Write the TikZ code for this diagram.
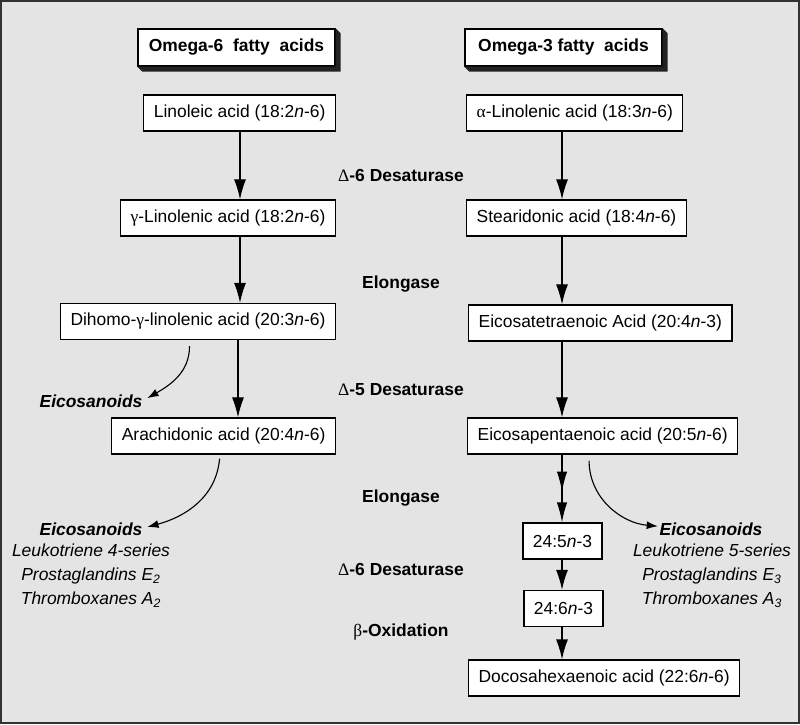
\documentclass[tikz,border=0pt]{standalone}
\usepackage{fontspec}
\setmainfont{Liberation Sans}
\newfontfamily\grk{Liberation Serif}
\usetikzlibrary{arrows.meta}

\definecolor{bggray}{RGB}{228,228,228}
\definecolor{shadowgray}{RGB}{34,34,34}

\tikzset{
  acidbox/.style={draw, fill=white, line width=0.9pt, minimum height=0.9cm, inner xsep=0.25cm},
  titlebox/.style={draw, fill=white, line width=0.9pt, minimum width=4.925cm, minimum height=0.925cm, font=\bfseries\fontsize{12.4pt}{15pt}\selectfont},
  enzyme/.style={font=\bfseries\fontsize{12.4pt}{15pt}\selectfont},
  eicohead/.style={font=\bfseries\itshape\fontsize{12.4pt}{15pt}\selectfont},
  eicolist/.style={align=center, font=\itshape\fontsize{12.4pt}{17.07pt}\selectfont},
  arr/.style={-{Latex[length=0.5cm,width=0.3cm]}, line width=0.9pt},
  dblarr/.style={-{Latex[length=0.5cm,width=0.26cm,sep=0.27cm]Latex[length=0.5cm,width=0.26cm]}, line width=0.9pt},
  curvearr/.style={-{Latex[length=0.28cm,width=0.2cm]}, line width=0.8pt},
}

\begin{document}
\begin{tikzpicture}[x=0.025cm, y=-0.025cm, font=\fontsize{12.4pt}{15pt}\selectfont]
    \useasboundingbox (0,0) rectangle (800,724);
    \fill[bggray] (0,0) rectangle (800,724);
    \draw[line width=1.2pt, black!80] (1,1) rectangle (799,723);

    % column headings
    \node[titlebox] (t6) at (236.5,47.5) {Omega-6\ \ fatty\ \ acids};
    \node[titlebox] (t3) at (563.5,47.5) {Omega-3 fatty\ \ acids};
    \fill[shadowgray] (t6.north east) -- ++(5,5) -- ([shift={(5,5)}]t6.south east) -- ([shift={(5,5)}]t6.south west) -- (t6.south west) -- (t6.south east) -- cycle;
    \fill[shadowgray] (t3.north east) -- ++(5,5) -- ([shift={(5,5)}]t3.south east) -- ([shift={(5,5)}]t3.south west) -- (t3.south west) -- (t3.south east) -- cycle;

    \coordinate (colL) at (240,0);
    \coordinate (colR) at (562,0);

    % omega-6 side
    \node[acidbox, anchor=east] (lin) at (336,113) {Linoleic acid (18:2\textit{n}-6)};
    \node[acidbox, anchor=east] (glin) at (336,218) {{\grk γ}-Linolenic acid (18:2\textit{n}-6)};
    \node[acidbox, anchor=east] (dih) at (336,321.5) {Dihomo-{\grk γ}-linolenic acid (20:3\textit{n}-6)};
    \node[acidbox, anchor=east] (ara) at (336,436) {Arachidonic acid (20:4\textit{n}-6)};

    % omega-3 side
    \node[acidbox, anchor=west] (alin) at (466,113) {{\grk α}-Linolenic acid (18:3\textit{n}-6)};
    \node[acidbox, anchor=west] (ster) at (466,218) {Stearidonic acid (18:4\textit{n}-6)};
    \node[acidbox, anchor=west] (eta) at (468,323) {Eicosatetraenoic Acid (20:4\textit{n}-3)};
    \node[acidbox, anchor=west] (epa) at (467,436) {Eicosapentaenoic acid (20:5\textit{n}-6)};
    \node[acidbox] (c245) at (562.5,541) {24:5\textit{n}-3};
    \node[acidbox] (c246) at (563.5,608.5) {24:6\textit{n}-3};
    \node[acidbox, anchor=west] (dha) at (468,678) {Docosahexaenoic acid (22:6\textit{n}-6)};

    % enzymes
    \node[enzyme] (des6a) at (401,175) {{\grk\mdseries Δ}-6 Desaturase};
    \node[enzyme] (elo1) at (401,284) {Elongase};
    \node[enzyme] (des5) at (401,390) {{\grk\mdseries Δ}-5 Desaturase};
    \node[enzyme] (elo2) at (401,498) {Elongase};
    \node[enzyme] (des6b) at (401,569) {{\grk\mdseries Δ}-6 Desaturase};
    \node[enzyme] (boxi) at (401,632) {{\grk\mdseries β}-Oxidation};

    % eicosanoids
    \node[eicohead] (eicA) at (91,401) {Eicosanoids};
    \node[eicohead] (eicB) at (91,529) {Eicosanoids};
    \node[eicolist] (serB) at (91,576) {Leukotriene 4-series\\Prostaglandins \textit{E}\textsubscript{2}\\Thromboxanes \textit{A}\textsubscript{2}};
    \node[eicohead] (eicC) at (711,529) {Eicosanoids};
    \node[eicolist] (serC) at (712,576) {Leukotriene 5-series\\Prostaglandins \textit{E}\textsubscript{3}\\Thromboxanes \textit{A}\textsubscript{3}};

    \draw[arr] (colL |- lin.south) -- (colL |- glin.north);
    \draw[arr] (colL |- glin.south) -- (colL |- dih.north);
    \draw[arr] ([xshift=-0.05cm]colL |- dih.south) -- ([xshift=-0.05cm]colL |- ara.north);

    \draw[arr] (colR |- alin.south) -- (colR |- ster.north);
    \draw[arr] (colR |- ster.south) -- (colR |- eta.north);
    \draw[arr] (colR |- eta.south) -- (colR |- epa.north);
    \draw[dblarr] (colR |- epa.south) -- (colR |- c245.north);
    \draw[arr] (colR |- c245.south) -- (colR |- c246.north);
    \draw[arr] (colR |- c246.south) -- (colR |- dha.north);

    \draw[curvearr] ([xshift=-0.21cm,yshift=-0.15cm]dih.south) to[out=-90,in=30] ([yshift=0.07cm]eicA.east);
    \draw[curvearr] ([xshift=-0.1cm,yshift=-0.1cm]ara.south) to[out=-95,in=15] ([yshift=0.05cm]eicB.east);
    \draw[curvearr] ([xshift=-0.34cm,yshift=-0.15cm]epa.south) to[out=-90,in=175] ([xshift=0.08cm,yshift=0.07cm]eicC.west);
\end{tikzpicture}
\end{document}
